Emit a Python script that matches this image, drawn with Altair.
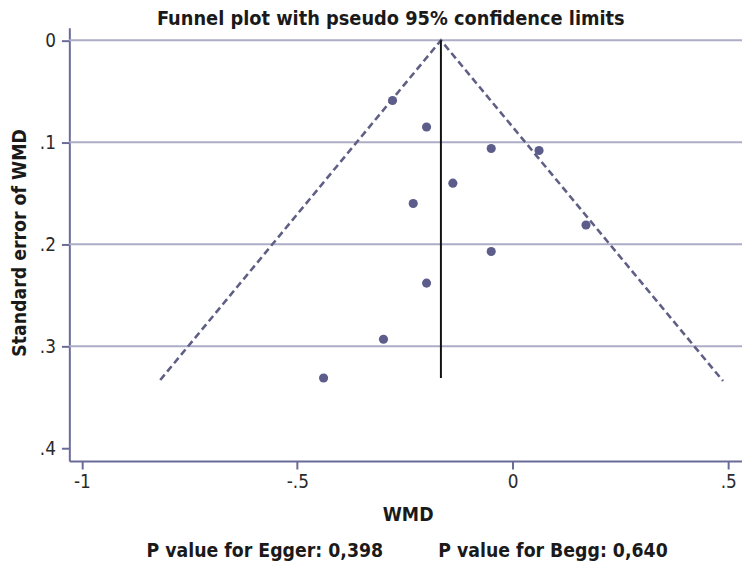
import altair as alt
import pandas as pd

# ---- data ----
study_wmd = [-0.279, -0.200, -0.050, 0.061, -0.139, -0.231, 0.170, -0.050, -0.200, -0.300, -0.439]
study_se = [0.059, 0.085, 0.106, 0.108, 0.140, 0.160, 0.181, 0.207, 0.238, 0.293, 0.331]

pooled_wmd = -0.1667
pooled_se_top = 0.0
pooled_se_bottom = 0.331

funnel_wmd = [-0.818, -0.1667, 0.488]
funnel_se = [0.333, 0.0, 0.334]

grid_se = [0.0, 0.1, 0.2, 0.3]

x_ticks = [-1, -0.5, 0, 0.5]
x_tick_labels = ["-1", "-.5", "0", ".5"]
y_ticks = [0, 0.1, 0.2, 0.3, 0.4]
y_tick_labels = ["0", ".1", ".2", ".3", ".4"]

title_text = "Funnel plot with pseudo 95% confidence limits"
x_title = "WMD"
y_title = "Standard error of WMD"
note_egger = "P value for Egger: 0,398"
note_begg = "P value for Begg: 0,640"

# ---- styling ----
FONT = "Liberation Sans Narrow, DejaVu Sans Condensed, sans-serif"
AXIS_COLOR = "#6b6b98"
GRID_COLOR = "#adadc7"
MARK_COLOR = "#5d5d8c"
DASH_COLOR = "#5f5f86"
TEXT_COLOR = "#1a1a1a"

x_scale = alt.Scale(domain=[-1.029, 0.532], nice=False, zero=False)
y_scale = alt.Scale(domain=[-0.0123, 0.4125], nice=False, zero=False, reverse=True)


def label_expr(values, labels):
    parts = [f"datum.value == {v} ? '{l}'" for v, l in zip(values, labels)]
    return " : ".join(parts) + " : ''"


x_axis = alt.Axis(
    values=x_ticks,
    labelExpr=label_expr(x_ticks, x_tick_labels),
    title=x_title,
    titleX=342,
    titleY=60,
    titleAnchor="middle",
    titleAlign="center",
    titleBaseline="alphabetic",
    labelPadding=4,
    grid=False,
)
y_axis = alt.Axis(
    values=y_ticks,
    labelExpr=label_expr(y_ticks, y_tick_labels),
    title=y_title,
    titleX=-44,
    titleY=217,
    titleAngle=270,
    titleAlign="center",
    titleBaseline="alphabetic",
    labelPadding=6,
    grid=False,
)

pts = pd.DataFrame({"wmd": study_wmd, "se": study_se})
funnel = pd.DataFrame({"wmd": funnel_wmd, "se": funnel_se, "k": list(range(len(funnel_wmd)))})
grid = pd.DataFrame({"se": grid_se})
pooled = pd.DataFrame({"wmd": [pooled_wmd], "se": [pooled_se_top], "se2": [pooled_se_bottom]})

X = alt.X("wmd:Q", scale=x_scale, axis=x_axis)
Y = alt.Y("se:Q", scale=y_scale, axis=y_axis)

grid_layer = alt.Chart(grid).mark_rule(color=GRID_COLOR, strokeWidth=2).encode(y=Y)

funnel_layer = alt.Chart(funnel).mark_line(
    color=DASH_COLOR, strokeWidth=2.6, strokeDash=[7, 4]
).encode(x=X, y=Y, order="k:Q")

pooled_layer = alt.Chart(pooled).mark_rule(color="#111111", strokeWidth=2).encode(
    x=X, y=Y, y2="se2:Q"
)

points_layer = alt.Chart(pts).mark_circle(color=MARK_COLOR, size=85, opacity=1).encode(x=X, y=Y)


def text_layer(txt, px, py, size, align="left"):
    return alt.Chart(pd.DataFrame({"t": [txt]})).mark_text(
        font=FONT, fontSize=size, fontWeight="bold", color=TEXT_COLOR,
        align=align, baseline="alphabetic",
    ).encode(text="t:N", x=alt.value(px), y=alt.value(py))


title_layer = text_layer(title_text, 325, -3, 20, align="center")
egger_layer = text_layer(note_egger, 78, 535, 19.5)
begg_layer = text_layer(note_begg, 373, 535, 19.5)

chart = alt.layer(
    grid_layer, funnel_layer, pooled_layer, points_layer,
    title_layer, egger_layer, begg_layer,
).properties(
    width=680,
    height=438,
    autosize=alt.AutoSizeParams(type="none"),
    padding={"left": 62, "top": 17, "right": 0, "bottom": 101},
).configure_view(
    stroke=None
).configure_axis(
    domainColor=AXIS_COLOR,
    domainWidth=2,
    tickColor=AXIS_COLOR,
    tickWidth=2,
    tickSize=8,
    labelFont=FONT,
    labelFontSize=19,
    labelColor="#2a2a2a",
    titleFont=FONT,
    titleFontSize=19.5,
    titleFontWeight="bold",
    titleColor=TEXT_COLOR,
)

chart.save("out.html", embed_options={"renderer": "svg", "actions": False})
